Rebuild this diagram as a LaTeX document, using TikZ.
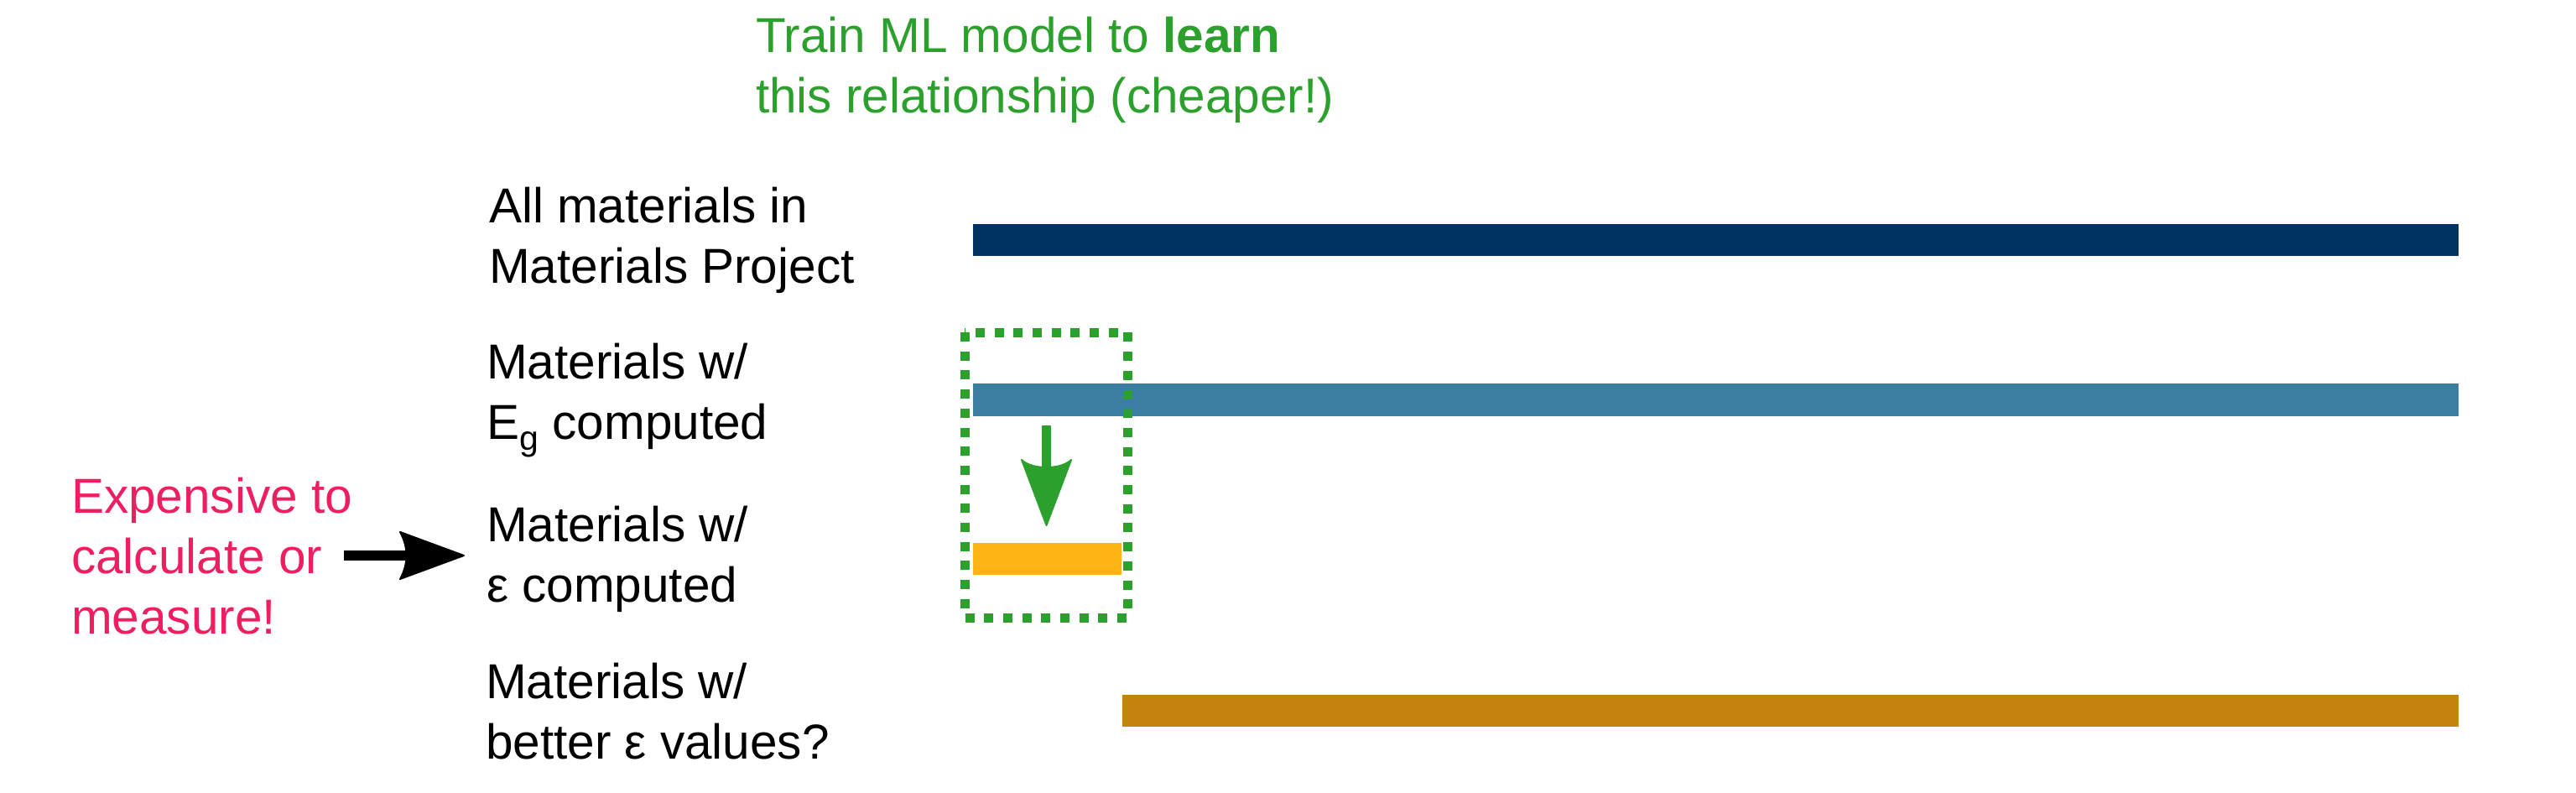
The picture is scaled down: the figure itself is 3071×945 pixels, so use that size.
\documentclass[tikz,border=0pt]{standalone}
\usepackage{fontspec}
\setmainfont{Liberation Sans}
\definecolor{bknavy}{HTML}{003262}
\definecolor{bkblue}{HTML}{3B7EA1}
\definecolor{bkgold}{HTML}{FDB515}
\definecolor{bkmedal}{HTML}{C4820E}
\definecolor{mlgreen}{HTML}{2CA02C}
\definecolor{rosered}{HTML}{EE1F60}
\tikzset{
  lbl/.style={anchor=base west, inner sep=0pt, outer sep=0pt, align=left,
    font=\fontsize{58.5}{72}\selectfont},
}
\begin{document}
\begin{tikzpicture}[x=1pt,y=-1pt]
\useasboundingbox (0,0) rectangle (3071,945);
% bars
\fill[bknavy] (1160,267) rectangle (2931,305);
\fill[bkblue] (1160,457) rectangle (2931,496);
\fill[bkgold] (1160,647) rectangle (1337,685);
\fill[bkmedal] (1338,828) rectangle (2931,866);
% labels (base anchor = baseline of last line)
\node[lbl] (all) at (583,337) {All materials in\\Materials Project};
\node[lbl] (eg) at (580,523) {Materials w/\\E\textsubscript{g} computed};
\node[lbl] (eps) at (580,717) {Materials w/\\ε computed};
\node[lbl] (better) at (579,904) {Materials w/\\better ε values?};
\node[lbl, text=rosered] (exp) at (85,755) {Expensive to\\calculate or\\measure!};
\node[lbl, text=mlgreen] (train) at (901,134) {Train ML model to \textbf{learn}\\this relationship (cheaper!)};
% dotted box
\draw[mlgreen, line width=11pt, dash pattern=on 11pt off 11.7pt] (1150,396) rectangle (1344,736);
% green arrow
\coordinate (gS) at (1247.5,507);
\coordinate (gT) at (1247.5,626);
\fill[mlgreen] (1242,507) rectangle (1253,558);
\filldraw[mlgreen, line width=2pt, line join=round] (gT) -- (1218,548) .. controls (1230,560) and (1265,560) .. (1277,548) -- cycle;
% black arrow
\coordinate (bS) at (410,662);
\coordinate (bT) at (553,662);
\fill[black] (410,656) rectangle (485,668);
\filldraw[black, line width=2pt, line join=round] (bT) -- (477,634) .. controls (487,652) and (487,672) .. (477,690) -- cycle;
\end{tikzpicture}
\end{document}
